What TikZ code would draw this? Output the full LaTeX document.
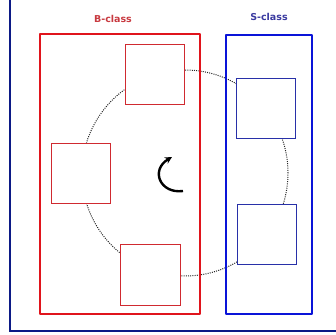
\documentclass[tikz,border=0pt]{standalone}
\usepackage{fontspec}
\setmainfont{DejaVu Sans}
\usetikzlibrary{arrows.meta}
\definecolor{bigred}{HTML}{E0141C}
\definecolor{smallred}{HTML}{D02A30}
\definecolor{bigblue}{HTML}{0A14D8}
\definecolor{smallblue}{HTML}{2830A8}
\definecolor{frameblue}{HTML}{0C1A86}
\definecolor{labred}{HTML}{C83A40}
\definecolor{labblue}{HTML}{3A3AA0}
\tikzset{
  classbox/.style={draw, line width=2.6pt, line join=round, inner sep=0pt},
  redsq/.style={draw=smallred, fill=white, line width=1pt, inner sep=0pt, minimum width=59pt, minimum height=59pt},
  bluesq/.style={draw=smallblue, fill=white, line width=1pt, inner sep=0pt, minimum width=59pt, minimum height=60pt},
  classlabel/.style={font=\bfseries\fontsize{9.5}{11}\selectfont, inner sep=0pt},
  ring/.style={dash pattern=on 1pt off 1.2pt, line width=1pt, black!85},
}
\begin{document}
\begin{tikzpicture}[x=1pt,y=-1pt]
\useasboundingbox (0,0) rectangle (336,334);
% frame
\draw[frameblue, line width=1.4pt] (10,0) -- (10,331) -- (336,331);
% ring
\coordinate (c) at (185,173);
\draw[ring] (c) circle[radius=103pt];
% class boxes
\node[classbox, draw=bigred, minimum width=160pt, minimum height=280pt] (B) at (120,174) {};
\node[classbox, draw=bigblue, minimum width=86pt, minimum height=279pt] (S) at (269,174.5) {};
\node[classlabel, text=labred] (Bl) at (113,19) {B-class};
\node[classlabel, text=labblue] (Sl) at (269,17) {S-class};
% squares
\node[redsq] (r1) at (154.5,74.5) {};
\node[redsq, minimum height=60pt] (r2) at (80.5,173) {};
\node[redsq, minimum width=60pt, minimum height=61pt] (r3) at (150,274.5) {};
\node[bluesq] (s1) at (265.5,108) {};
\node[bluesq] (s2) at (266.5,234) {};
% rotation arrow
\coordinate (a0) at (183,191);
\coordinate (a1) at (172,157);
\draw[line width=2.4pt, -{Stealth[length=7pt,width=7pt]}] (a0) .. controls (160,194) and (150,170) .. (a1);
\end{tikzpicture}
\end{document}
